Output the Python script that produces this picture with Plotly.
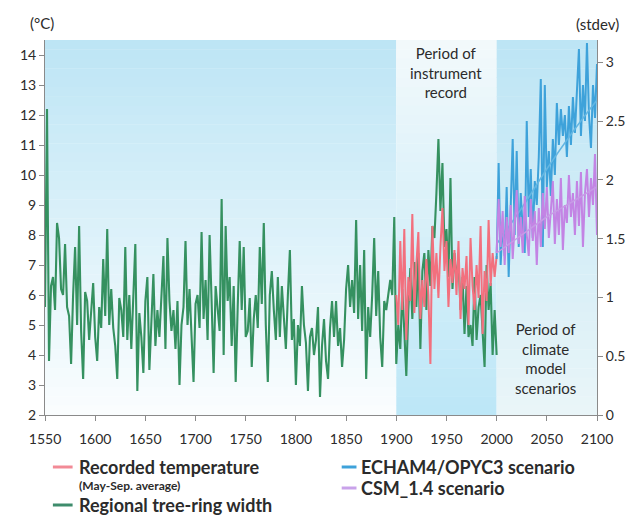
import plotly.graph_objects as go

# ---------------- data ----------------
tree_years = list(range(1550, 2001, 2))
tree_ring = [
    5.6, 12.2, 3.8, 6.3, 6.6, 5.5, 8.4, 7.9, 6.2, 6.0,
    7.7, 5.6, 5.3, 3.7, 6.0, 7.6, 5.0, 8.3, 4.8, 3.2,
    6.1, 5.8, 4.5, 5.6, 6.4, 4.6, 3.8, 5.6, 4.9, 7.2,
    5.3, 8.2, 5.0, 6.2, 4.9, 4.3, 3.2, 5.9, 5.5, 4.6,
    7.6, 4.5, 6.0, 4.2, 5.7, 7.7, 2.8, 5.4, 4.6, 3.4,
    5.8, 6.6, 3.5, 5.0, 6.7, 4.3, 5.5, 4.6, 6.2, 7.3,
    4.2, 7.9, 5.8, 4.8, 5.5, 4.2, 5.8, 3.0, 5.0, 5.6,
    7.8, 5.0, 6.2, 4.8, 3.1, 5.7, 6.0, 4.9, 8.1, 5.2,
    6.5, 4.5, 8.0, 5.8, 3.4, 6.3, 5.4, 4.8, 9.2, 4.0,
    8.3, 5.8, 6.6, 4.3, 6.3, 3.1, 5.6, 7.8, 5.5, 7.6,
    4.6, 4.8, 5.9, 3.6, 5.2, 6.0, 4.9, 7.6, 5.7, 8.4,
    5.0, 3.1, 6.0, 6.8, 5.5, 4.5, 6.6, 4.6, 6.3, 5.4,
    4.2, 6.0, 7.5, 4.5, 5.2, 3.0, 5.0, 4.3, 6.3, 5.0,
    4.4, 2.8, 4.6, 4.9, 4.0, 4.5, 5.6, 2.6, 4.3, 5.2,
    3.8, 3.2, 4.9, 5.8, 4.6, 5.8, 4.3, 4.9, 3.6, 4.5,
    6.2, 7.0, 5.6, 6.5, 5.4, 8.5, 5.2, 7.0, 4.8, 7.5,
    3.2, 5.6, 4.6, 6.0, 7.9, 5.3, 6.8, 4.6, 3.6, 5.8,
    5.5, 6.0, 6.5, 6.0, 8.6, 3.7, 5.0, 4.2, 6.2, 4.8,
    3.3, 5.5, 6.9, 5.2, 7.1, 5.6, 7.4, 4.2, 6.8, 7.4,
    5.5, 7.5, 6.3, 8.3, 7.9, 9.4, 11.2, 8.8, 10.4, 7.6,
    8.2, 6.6, 9.9, 6.2, 7.4, 6.5, 7.2, 5.5, 6.6, 4.7,
    6.3, 4.6, 5.0, 4.3, 6.6, 4.5, 5.6, 6.0, 4.7, 3.6,
    7.0, 5.5, 6.4, 4.0, 5.5, 4.0,
]

record_years = list(range(1900, 2001, 2))
recorded_temp = [
    6.0, 5.0, 7.8, 5.5, 8.2, 4.5, 6.6, 5.8, 8.7, 5.4,
    7.0, 8.1, 5.2, 6.5, 5.6, 7.2, 6.0, 3.7, 8.3, 6.2,
    7.4, 5.9, 7.6, 8.9, 6.8, 7.8, 5.6, 7.2, 6.4, 7.5,
    6.0, 7.8, 5.2, 6.9, 6.2, 7.3, 5.0, 7.9, 6.3, 5.5,
    7.0, 5.9, 8.3, 4.7, 6.8, 5.8, 8.5, 6.3, 7.4, 6.6,
    7.3,
]

scen_years = list(range(2000, 2101, 2))
echam = [
    7.2, 10.4, 7.0, 8.4, 7.3, 9.6, 6.6, 9.0, 11.2, 8.0,
    10.8, 7.6, 9.4, 8.2, 7.4, 11.8, 8.6, 10.2, 7.9, 9.8,
    9.0, 10.6, 13.2, 7.6, 13.0, 9.6, 10.8, 9.3, 11.2, 10.0,
    12.4, 11.0, 12.2, 11.3, 12.0, 10.6, 12.3, 11.0, 12.6, 11.4,
    12.9, 14.2, 11.3, 13.0, 11.8, 14.4, 12.0, 10.9, 13.0, 11.9,
    13.7,
]
csm = [
    7.4, 9.2, 7.6, 8.8, 7.0, 8.6, 7.4, 9.0, 7.2, 8.4,
    9.5, 7.7, 8.6, 7.4, 9.3, 8.0, 7.3, 9.2, 7.8, 8.8,
    7.0, 8.9, 7.6, 9.4, 8.2, 9.6, 7.9, 8.8, 9.8, 7.7,
    9.2, 8.0, 9.9, 7.5, 9.0, 8.4, 10.0, 8.6, 9.4, 8.0,
    9.8, 8.3, 10.1, 7.6, 9.4, 10.2, 8.6, 9.9, 9.0, 10.7,
    8.0,
]

trend_years = [2000, 2025, 2050, 2075, 2100]
echam_trend = [7.7, 8.9, 10.2, 11.4, 12.5]
csm_trend = [7.4, 8.0, 8.6, 9.1, 9.6]

x_ticks = list(range(1550, 2101, 50))
left_ticks = list(range(2, 15))
right_ticks = [0, 0.5, 1, 1.5, 2, 2.5, 3]
right_labels = ["0", "0.5", "1", "1.5", "2", "2.5", "3"]

# ---------------- styling ----------------
FONT = "Lato"
TXT = "#2b2b2b"
GREEN = "#359160"
RED = "#f2707e"
BLUE = "#3ea2da"
PURPLE = "#c384e4"
Y_MIN, Y_MAX = 2, 14.5

fig = go.Figure()

fig.add_trace(go.Scatter(x=tree_years, y=tree_ring, mode="lines",
                         line=dict(color=GREEN, width=2.1), hoverinfo="skip",
                         name="Regional tree-ring width"))
fig.add_trace(go.Scatter(x=record_years, y=recorded_temp, mode="lines",
                         line=dict(color=RED, width=2.0), hoverinfo="skip",
                         name="Recorded temperature"))
fig.add_trace(go.Scatter(x=scen_years, y=echam, mode="lines",
                         line=dict(color=BLUE, width=2.0), hoverinfo="skip",
                         name="ECHAM4/OPYC3 scenario"))
fig.add_trace(go.Scatter(x=trend_years, y=echam_trend, mode="lines",
                         line=dict(color="#63b6e2", width=1.5, shape="spline"),
                         hoverinfo="skip", showlegend=False))
fig.add_trace(go.Scatter(x=scen_years, y=csm, mode="lines",
                         line=dict(color=PURPLE, width=2.0), hoverinfo="skip",
                         name="CSM_1.4 scenario"))
fig.add_trace(go.Scatter(x=trend_years, y=csm_trend, mode="lines",
                         line=dict(color="#c79ae6", width=1.5, shape="spline"),
                         hoverinfo="skip", showlegend=False))
# trace anchoring the right (stdev) axis
fig.add_trace(go.Scatter(x=[1550], y=[0], yaxis="y2", mode="markers",
                         marker=dict(opacity=0), hoverinfo="skip", showlegend=False))

# ---------------- background gradients ----------------
def lerp(c1, c2, t):
    return "rgb(%d,%d,%d)" % tuple(round(a + (b - a) * t) for a, b in zip(c1, c2))

shapes = []
N = 40
step = (Y_MAX - Y_MIN) / N
regions = [
    (1550, 1900, (189, 229, 245), (250, 253, 254)),
    (1900, 2000, (242, 249, 251), (189, 231, 247)),
    (2000, 2100, (189, 229, 245), (233, 245, 248)),
]
for x0, x1, ctop, cbot in regions:
    for i in range(N):
        t = i / (N - 1)
        top = Y_MAX - i * step
        bot = max(Y_MIN, top - step * 1.05)
        shapes.append(dict(type="rect", xref="x", yref="y",
                           x0=x0, x1=x1, y0=bot, y1=top,
                           fillcolor=lerp(ctop, cbot, t), line=dict(width=0),
                           layer="below"))

# ---------------- manual legend ----------------
# figure is shown with an 8 px page margin, so page pixel p -> figure pixel p-8
PL, PT, PW, PH = 40, 40, 560, 375  # plot area in page pixels

def px_x(p):
    return (p - PL) / PW

def px_y(p):
    return (PT + PH - p) / PH

legend_items = [
    (48, 68, 467, "#f28a96", 72, "<b>Recorded temperature</b>"),
    (48, 68, 505, "#3e8c6c", 72, "<b>Regional tree-ring width</b>"),
    (341, 356, 467, "#3ea2da", 359, "<b>ECHAM4/OPYC3 scenario</b>"),
    (341, 356, 488, "#c9a2ea", 359, "<b>CSM_1.4 scenario</b>"),
]
annotations = []
for xa, xb, yy, col, tx, label in legend_items:
    shapes.append(dict(type="line", xref="paper", yref="paper",
                       x0=px_x(xa), x1=px_x(xb), y0=px_y(yy), y1=px_y(yy),
                       line=dict(color=col, width=3)))
    annotations.append(dict(xref="paper", yref="paper", x=px_x(tx), y=px_y(yy),
                            xanchor="left", yanchor="middle", showarrow=False,
                            text=label, font=dict(family=FONT, size=18, color=TXT)))
annotations.append(dict(xref="paper", yref="paper", x=px_x(72), y=px_y(485),
                        xanchor="left", yanchor="middle", showarrow=False,
                        text="<b>(May-Sep. average)</b>",
                        font=dict(family=FONT, size=12, color=TXT)))

annotations += [
    dict(xref="paper", yref="paper", x=px_x(37), y=px_y(23), xanchor="center",
         yanchor="middle", showarrow=False, text="(°C)",
         font=dict(family=FONT, size=15, color=TXT)),
    dict(xref="paper", yref="paper", x=px_x(600), y=px_y(24), xanchor="center",
         yanchor="middle", showarrow=False, text="(stdev)",
         font=dict(family=FONT, size=15, color=TXT)),
    dict(xref="x", yref="paper", x=1950, y=px_y(73), xanchor="center",
         yanchor="middle", showarrow=False,
         text="Period of<br>instrument<br>record",
         font=dict(family=FONT, size=15, color=TXT)),
    dict(xref="x", yref="paper", x=2049, y=px_y(358), xanchor="center",
         yanchor="middle", showarrow=False,
         text="Period of<br>climate<br>model<br>scenarios",
         font=dict(family=FONT, size=15, color=TXT)),
]

axis_common = dict(showgrid=False, zeroline=False, showline=True,
                   linecolor="#8a8a8a", linewidth=1, ticks="outside",
                   tickcolor="#8a8a8a", ticklen=5,
                   tickfont=dict(family=FONT, size=14, color=TXT))

fig.update_layout(
    width=629, height=511,
    margin=dict(l=PL - 8, r=629 - (PL - 8) - PW, t=PT - 8, b=511 - (PT - 8) - PH),
    paper_bgcolor="white", plot_bgcolor="white",
    showlegend=False,
    shapes=shapes, annotations=annotations,
    xaxis=dict(range=[1550, 2100], tickvals=x_ticks, ticklabelstandoff=6,
               **axis_common),
    yaxis=dict(range=[Y_MIN, Y_MAX], tickvals=left_ticks, **axis_common),
    yaxis2=dict(range=[0, 3.19], tickvals=right_ticks, ticktext=right_labels,
                overlaying="y", side="right", **axis_common),
)

fig.write_html("out.html")
